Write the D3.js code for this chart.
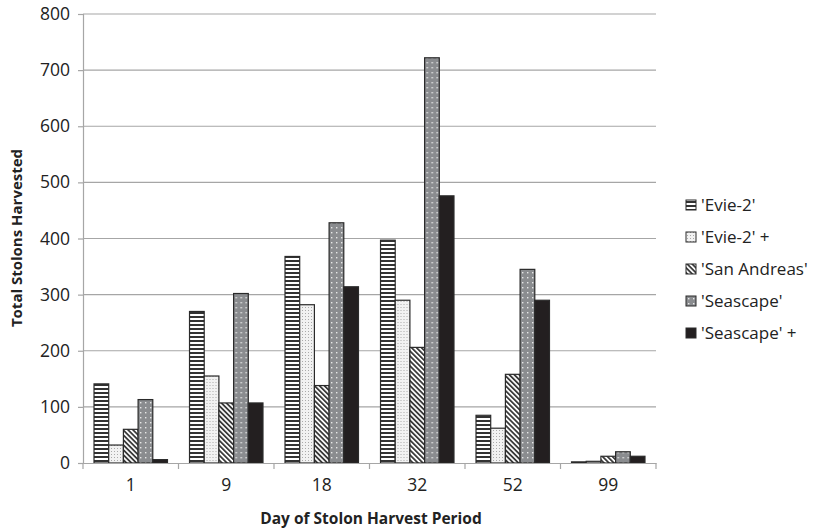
<!DOCTYPE html>
<html>
<head>
<meta charset="utf-8">
<script src="https://cdn.jsdelivr.net/npm/d3@7"></script>
<style>
  body { margin: 0; background: #fff; }
  text { font-family: "Open Sans", sans-serif; fill: #222; }
</style>
</head>
<body>
<div id="vis-holder"></div>
<script>
// chart data
const days = ["1", "9", "18", "32", "52", "99"];
const cultivars = ["'Evie-2'", "'Evie-2' +", "'San Andreas'", "'Seascape'", "'Seascape' +"];
const evie2 = [141, 270, 368, 397, 85, 2];
const evie2Plus = [32, 155, 282, 290, 62, 3];
const sanAndreas = [60, 107, 138, 206, 158, 12];
const seascape = [113, 302, 428, 722, 345, 20];
const seascapePlus = [6, 107, 314, 476, 290, 12];
const yTicks = [0, 100, 200, 300, 400, 500, 600, 700, 800];

const series = [evie2, evie2Plus, sanAndreas, seascape, seascapePlus];

const width = 815, height = 530;
const margin = { top: 14, right: 159, bottom: 67, left: 83 };

const svg = d3.select("#vis-holder")
    .append("svg")
    .attr("width", width)
    .attr("height", height);

// fill patterns
const defs = svg.append("defs");

let p = defs.append("pattern").attr("id", "p0")
    .attr("patternUnits", "userSpaceOnUse").attr("width", 4).attr("height", 4);
p.append("rect").attr("width", 4).attr("height", 4).attr("fill", "#fff");
p.append("rect").attr("width", 4).attr("height", 2).attr("fill", "#333");

p = defs.append("pattern").attr("id", "p1")
    .attr("patternUnits", "userSpaceOnUse").attr("width", 3).attr("height", 3);
p.append("rect").attr("width", 3).attr("height", 3).attr("fill", "#f2f2f2");
p.append("rect").attr("x", 1).attr("y", 1).attr("width", 1).attr("height", 1).attr("fill", "#aaa");

p = defs.append("pattern").attr("id", "p2")
    .attr("patternUnits", "userSpaceOnUse").attr("width", 3.5).attr("height", 3.5)
    .attr("patternTransform", "rotate(-45)");
p.append("rect").attr("width", 3.5).attr("height", 3.5).attr("fill", "#fff");
p.append("rect").attr("width", 1.8).attr("height", 3.5).attr("fill", "#3a3a3a");

p = defs.append("pattern").attr("id", "p3")
    .attr("patternUnits", "userSpaceOnUse").attr("width", 5).attr("height", 5);
p.append("rect").attr("width", 5).attr("height", 5).attr("fill", "#8a8c8f");
p.append("rect").attr("x", 2).attr("y", 2).attr("width", 1.4).attr("height", 1.4).attr("fill", "#e8e8e8");

const fills = ["url(#p0)", "url(#p1)", "url(#p2)", "url(#p3)", "#231f20"];

const x0 = d3.scaleBand()
    .domain(days)
    .range([margin.left, width - margin.right])
    .paddingInner(0)
    .paddingOuter(0);

const x1 = d3.scaleBand()
    .domain(d3.range(cultivars.length))
    .range([0, x0.bandwidth()])
    .paddingOuter(0.75)
    .paddingInner(0);

const y = d3.scaleLinear()
    .domain([0, 800])
    .range([height - margin.bottom, margin.top]);

// gridlines
svg.append("g")
    .selectAll("line")
    .data(yTicks.slice(1))
    .enter().append("line")
    .attr("x1", margin.left)
    .attr("x2", width - margin.right)
    .attr("y1", d => y(d))
    .attr("y2", d => y(d))
    .attr("stroke", "#a6a6a6")
    .attr("stroke-width", 1.2);

// y axis
const yAxis = svg.append("g")
    .attr("transform", "translate(" + margin.left + ",0)")
    .call(d3.axisLeft(y).tickValues(yTicks).tickSize(5).tickPadding(8));
yAxis.select(".domain").attr("stroke", "#a6a6a6").attr("stroke-width", 1.2);
yAxis.selectAll(".tick line").attr("stroke", "#a6a6a6").attr("stroke-width", 1.2);
yAxis.selectAll("text").style("font-size", "17.5px").style("font-family", "Open Sans").attr("fill", "#222");

// bars
const groups = svg.append("g")
    .selectAll("g")
    .data(days)
    .enter().append("g")
    .attr("transform", d => "translate(" + x0(d) + ",0)");

groups.selectAll("rect")
    .data((d, i) => series.map((s, j) => ({ k: j, v: s[i] })))
    .enter().append("rect")
    .attr("x", d => x1(d.k))
    .attr("width", x1.bandwidth())
    .attr("y", d => y(d.v))
    .attr("height", d => y(0) - y(d.v))
    .attr("fill", d => fills[d.k])
    .attr("stroke", "#2a2a2a")
    .attr("stroke-width", 1.2);

// x axis
const xAxis = svg.append("g")
    .attr("transform", "translate(0," + y(0) + ")")
    .call(d3.axisBottom(x0).tickSize(0).tickPadding(16));
xAxis.select(".domain").attr("stroke", "#a6a6a6").attr("stroke-width", 1.2);
xAxis.selectAll("text").style("font-size", "17.5px").style("font-family", "Open Sans").attr("fill", "#222");
xAxis.selectAll(".sep")
    .data(d3.range(days.length + 1))
    .enter().append("line")
    .attr("x1", i => margin.left + i * x0.bandwidth())
    .attr("x2", i => margin.left + i * x0.bandwidth())
    .attr("y1", 0)
    .attr("y2", 6)
    .attr("stroke", "#a6a6a6")
    .attr("stroke-width", 1.2);

// axis titles
svg.append("text")
    .attr("x", 371)
    .attr("y", 524)
    .attr("text-anchor", "middle")
    .style("font-size", "15.5px")
    .style("font-weight", "bold")
    .text("Day of Stolon Harvest Period");

svg.append("text")
    .attr("transform", "translate(22," + 238 + ") rotate(-90)")
    .attr("text-anchor", "middle")
    .style("font-size", "15px")
    .style("font-weight", "bold")
    .text("Total Stolons Harvested");

// legend
const legend = svg.append("g")
    .selectAll("g")
    .data(cultivars)
    .enter().append("g")
    .attr("transform", (d, i) => "translate(686," + (205 + i * 32) + ")");

legend.append("rect")
    .attr("x", 0).attr("y", -5)
    .attr("width", 10).attr("height", 10)
    .attr("fill", (d, i) => fills[i])
    .attr("stroke", "#2a2a2a")
    .attr("stroke-width", 1);

legend.append("text")
    .attr("x", 15)
    .attr("y", 6)
    .style("font-size", "17px")
    .text(d => d);
</script>
</body>
</html>
